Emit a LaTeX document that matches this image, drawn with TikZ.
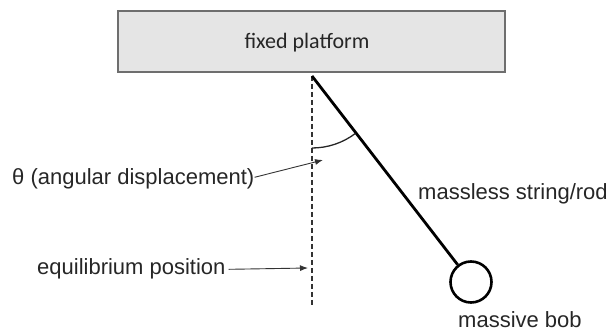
\documentclass[tikz,border=0pt]{standalone}
\usepackage{fontspec}
\setmainfont{Liberation Sans}
\newfontfamily\calfont{Carlito}
\usetikzlibrary{arrows.meta}
\definecolor{platfill}{HTML}{E5E5E5}
\definecolor{platedge}{HTML}{6E6E6E}
\tikzset{
  lbl/.style={inner sep=0pt, font=\fontsize{22}{26}\selectfont, text=black!85},
  pointer/.style={draw=black!80, line width=0.9pt, -{Latex[length=8pt,width=6pt]}},
  platbox/.style={draw=platedge, line width=1.6pt, fill=platfill, minimum width=387pt, minimum height=61pt, inner sep=0pt},
  bobstyle/.style={circle, draw=black, line width=2.6pt, minimum size=41pt, inner sep=0pt},
  rodstyle/.style={draw=black, line width=2.8pt},
  eqline/.style={draw=black!80, line width=1.3pt, dash pattern=on 5pt off 3pt},
}
\begin{document}
\begin{tikzpicture}[x=1pt,y=-1pt]
\useasboundingbox (0,0) rectangle (611,331);
\node[platbox] (plat) at (311.5,41.5) {};
\node[lbl, font=\calfont\fontsize{22}{26}\selectfont] (plattext) at (307,43) {fixed platform};
\coordinate (pivot) at (312,76);
\coordinate (eqbot) at (312,305);
\node[bobstyle] (bob) at (471,282) {};
\draw[eqline] (pivot) -- (eqbot);
\draw[rodstyle] (pivot) -- (bob);
\draw[black!85, line width=1.3pt] (pivot) ++(0,72) arc[start angle=-90, end angle=-53, radius=72pt];
\node[lbl, anchor=base west] (theta) at (12,185) {θ (angular displacement)};
\coordinate (thetatip) at (323,160);
\draw[pointer] (theta.east) ++(0,-2) -- (thetatip);
\node[lbl, anchor=base west] (equil) at (37,275) {equilibrium position};
\coordinate (eqtip) at (308,268);
\draw[pointer] (equil.east) ++(3,0) -- (eqtip);
\node[lbl, anchor=base west] (rodlbl) at (418,200) {massless string/rod};
\node[lbl, anchor=base west] (boblbl) at (458,327) {massive bob};
\end{tikzpicture}
\end{document}
